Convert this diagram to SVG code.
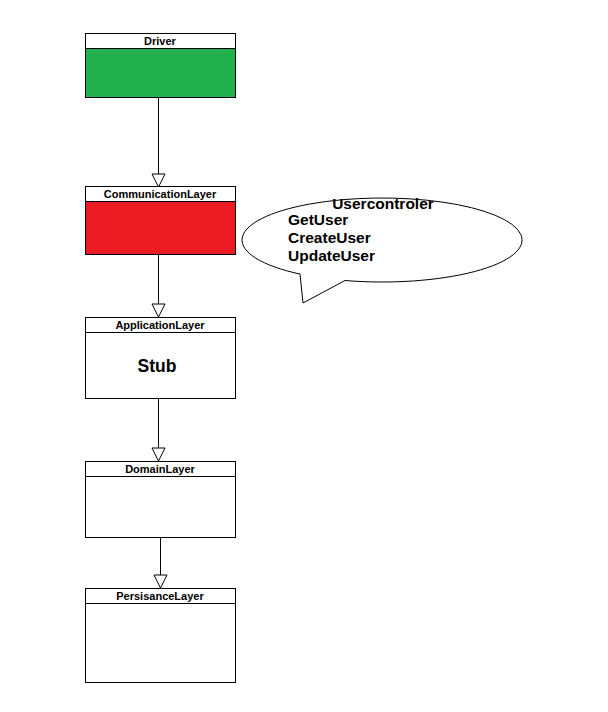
<svg xmlns="http://www.w3.org/2000/svg" width="608" height="712" viewBox="0 0 608 712">
<style>
.box{stroke:#000;stroke-width:1;fill:#fff}
.hdr{font-family:"Liberation Sans",Arial,sans-serif;font-size:11px;font-weight:bold;text-anchor:middle;fill:#000}
.big{font-family:"Liberation Sans",Arial,sans-serif;font-size:15.5px;font-weight:bold;fill:#000}
.conn{stroke:#000;stroke-width:1;fill:none}
</style>
<defs>
<marker id="tri" markerWidth="16" markerHeight="16" refX="14" refY="7" orient="auto" markerUnits="userSpaceOnUse">
<path d="M1,0.5 L14,7 L1,13.5 Z" fill="#fff" stroke="#000" stroke-width="1"/>
</marker>
</defs>
<rect width="608" height="712" fill="#fff"/>
<g id="connectors">
<line class="conn" x1="158.5" y1="98" x2="158.5" y2="187" marker-end="url(#tri)"/>
<line class="conn" x1="158.5" y1="255" x2="158.5" y2="317" marker-end="url(#tri)"/>
<line class="conn" x1="158.5" y1="398" x2="158.5" y2="461" marker-end="url(#tri)"/>
<line class="conn" x1="160.5" y1="537" x2="160.5" y2="588" marker-end="url(#tri)"/>
</g>
<g id="driver">
<rect class="box" x="85.5" y="33.5" width="150" height="64" style="fill:#22b14c"/>
<rect class="box" x="85.5" y="33.5" width="150" height="15"/>
<text class="hdr" x="160" y="45">Driver</text>
</g>
<g id="communication">
<rect class="box" x="85.5" y="186.5" width="150" height="68" style="fill:#ed1c24"/>
<rect class="box" x="85.5" y="186.5" width="150" height="15"/>
<text class="hdr" x="160" y="198">CommunicationLayer</text>
</g>
<g id="application">
<rect class="box" x="85.5" y="317.5" width="150" height="81"/>
<line class="conn" x1="85.5" y1="332.5" x2="235.5" y2="332.5"/>
<text class="hdr" x="160" y="329">ApplicationLayer</text>
<text x="157" y="372" style="font-family:'Liberation Sans',Arial,sans-serif;font-size:17.5px;font-weight:bold;text-anchor:middle">Stub</text>
</g>
<g id="domain">
<rect class="box" x="85.5" y="461.5" width="150" height="76"/>
<line class="conn" x1="85.5" y1="476.5" x2="235.5" y2="476.5"/>
<text class="hdr" x="160" y="473">DomainLayer</text>
</g>
<g id="persistance">
<rect class="box" x="85.5" y="588.5" width="150" height="94"/>
<line class="conn" x1="85.5" y1="603.5" x2="235.5" y2="603.5"/>
<text class="hdr" x="160" y="600">PersisanceLayer</text>
</g>
<g id="callout">
<path d="M300,274.04 A140,42 0 1 1 345,280.51 L303,303 Z" fill="#fff" stroke="#000" stroke-width="1"/>
<text class="big" x="383" y="209" text-anchor="middle">Usercontroler</text>
<text class="big" x="288" y="225">GetUser</text>
<text class="big" x="288" y="243">CreateUser</text>
<text class="big" x="288" y="261">UpdateUser</text>
</g>
</svg>
